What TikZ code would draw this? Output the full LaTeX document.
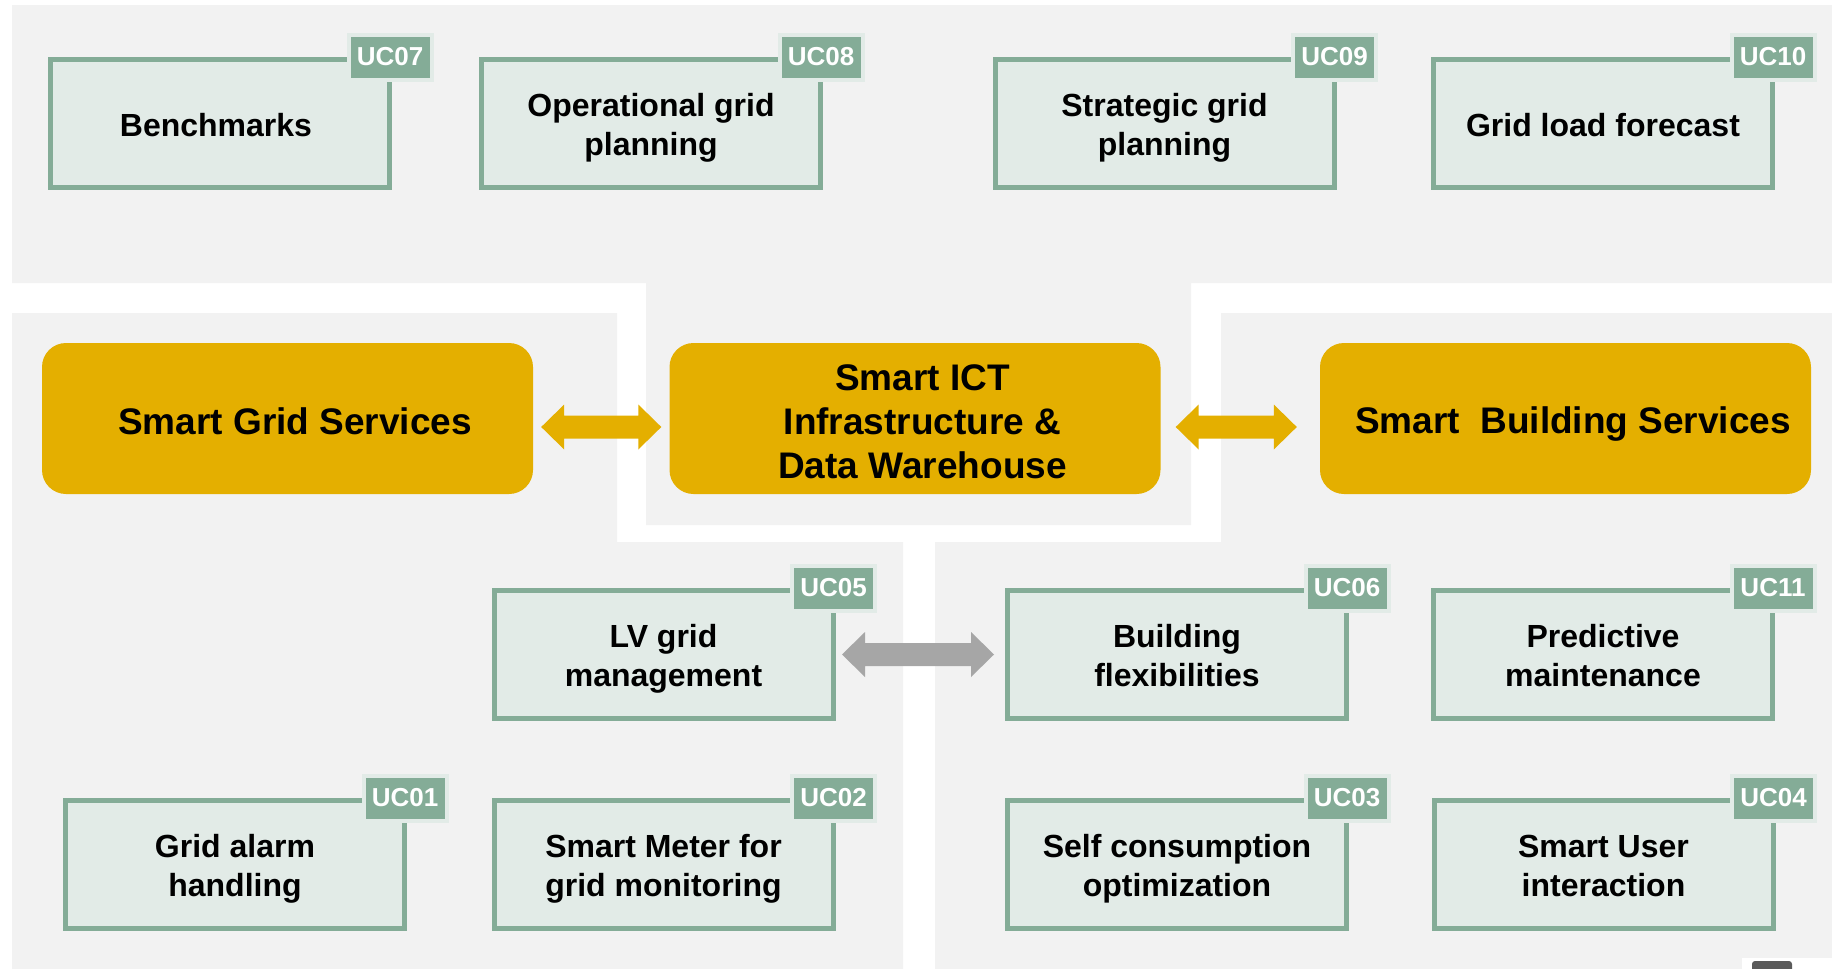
\documentclass[tikz,border=0pt]{standalone}
\usepackage{fontspec}
\setmainfont{Liberation Sans}
\usetikzlibrary{calc}
\definecolor{bggrey}{HTML}{F2F2F2}
\definecolor{ora}{HTML}{E4AF00}
\definecolor{ucfill}{HTML}{E2EBE7}
\definecolor{ucline}{HTML}{84AC97}
\definecolor{taghalo}{HTML}{E2EBE7}
\definecolor{arrgrey}{HTML}{A6A6A6}
\definecolor{darkart}{HTML}{5A5A5A}
\newcommand\ucstrut{\rule[-6pt]{0pt}{37.4pt}}
\newcommand\orstrut{\hspace*{15pt}\rule[-6pt]{0pt}{43pt}}
\newcommand\dblarrow[3]{%
  \fill[#1] let \p1=(#2), \p2=(#3) in
    (\x1,\y1) -- (\x1+23,\y1+22.5) -- (\x1+23,\y1+11.5) -- (\x2-23,\y2+11.5)
    -- (\x2-23,\y2+22.5) -- (\x2,\y2) -- (\x2-23,\y2-22.5) -- (\x2-23,\y2-11.5)
    -- (\x1+23,\y1-11.5) -- (\x1+23,\y1-22.5) -- cycle;}
\begin{document}
\begin{tikzpicture}[x=1pt,y=-1pt,
  ucbox/.style={draw=ucline, fill=ucfill, line width=5pt, minimum width=339pt,
    minimum height=128pt, align=center, inner sep=0pt,
    font=\fontsize{32}{38.5}\selectfont\bfseries},
  uctag/.style={fill=ucline, draw=taghalo, line width=4pt, minimum width=83pt,
    minimum height=45pt, inner sep=0pt, text=white,
    font=\fontsize{26}{30}\selectfont\bfseries},
  service/.style={fill=ora, rounded corners=24pt, minimum width=491pt,
    minimum height=151pt, align=center, inner sep=0pt,
    font=\fontsize{37}{44}\selectfont\bfseries}]
\useasboundingbox (0,0) rectangle (1832,969);
% background regions
\fill[bggrey] (12,5) -- (1832,5) -- (1832,283) -- (1191,283) -- (1191,525)
  -- (646,525) -- (646,283) -- (12,283) -- cycle;
\fill[bggrey] (12,313) -- (617,313) -- (617,542) -- (903,542) -- (903,969)
  -- (12,969) -- cycle;
\fill[bggrey] (1221,313) -- (1832,313) -- (1832,969) -- (935,969) -- (935,542)
  -- (1221,542) -- cycle;
% bottom-right artefact
\fill[white] (1742,958) rectangle (1832,969);
\fill[darkart, rounded corners=3pt] (1752,961) rectangle (1792,972);
% service boxes
\node[service] (sgs) at (287.5,418.5) {\orstrut Smart Grid Services};
\node[service] (ict) at (915,418.5) {\orstrut Smart ICT\\\orstrut Infrastructure \&\\\orstrut Data Warehouse};
\node[service] (sbs) at (1565.5,418.5) {\orstrut Smart\ \ Building Services};
% use case boxes
\node[ucbox] (uc07) at (220,123.5) {\kern-8pt\ucstrut Benchmarks};
\node[ucbox] (uc08) at (651,123.5) {\ucstrut Operational grid\\\ucstrut planning};
\node[ucbox] (uc09) at (1164.5,123.5) {\ucstrut Strategic grid\\\ucstrut planning};
\node[ucbox] (uc10) at (1603,123.5) {\ucstrut Grid load forecast};
\node[ucbox] (uc05) at (663.5,654.5) {\ucstrut LV grid\\\ucstrut management};
\node[ucbox] (uc06) at (1177,654.5) {\ucstrut Building\\\ucstrut flexibilities};
\node[ucbox] (uc11) at (1603,654.5) {\ucstrut Predictive\\\ucstrut maintenance};
\node[ucbox] (uc01) at (235,864.5) {\ucstrut Grid alarm\\\ucstrut handling};
\node[ucbox] (uc02) at (663.5,864.5) {\ucstrut Smart Meter for\\\ucstrut grid monitoring};
\node[ucbox] (uc03) at (1177,864.5) {\ucstrut Self consumption\\\ucstrut optimization};
\node[ucbox] (uc04) at (1603.5,864.5) {\ucstrut Smart User\\\ucstrut interaction};
% tags
\foreach \n in {07,08,09,10,05,06,11,01,02,03,04}
  \node[uctag] (t\n) at ($(uc\n.north east)+(-2,0)$) {UC\n};
% connectors
\coordinate (a1) at ($(sgs.east)+(8,8.5)$);
\coordinate (a2) at ($(ict.west)+(-8,8.5)$);
\coordinate (b1) at ($(ict.east)+(15,8.5)$);
\coordinate (b2) at ($(sbs.west)+(-23,8.5)$);
\coordinate (c1) at ($(uc05.east)+(6.5,0)$);
\coordinate (c2) at ($(uc06.west)+(-11,0)$);
\dblarrow{ora}{a1}{a2}
\dblarrow{ora}{b1}{b2}
\dblarrow{arrgrey}{c1}{c2}
\end{tikzpicture}
\end{document}
